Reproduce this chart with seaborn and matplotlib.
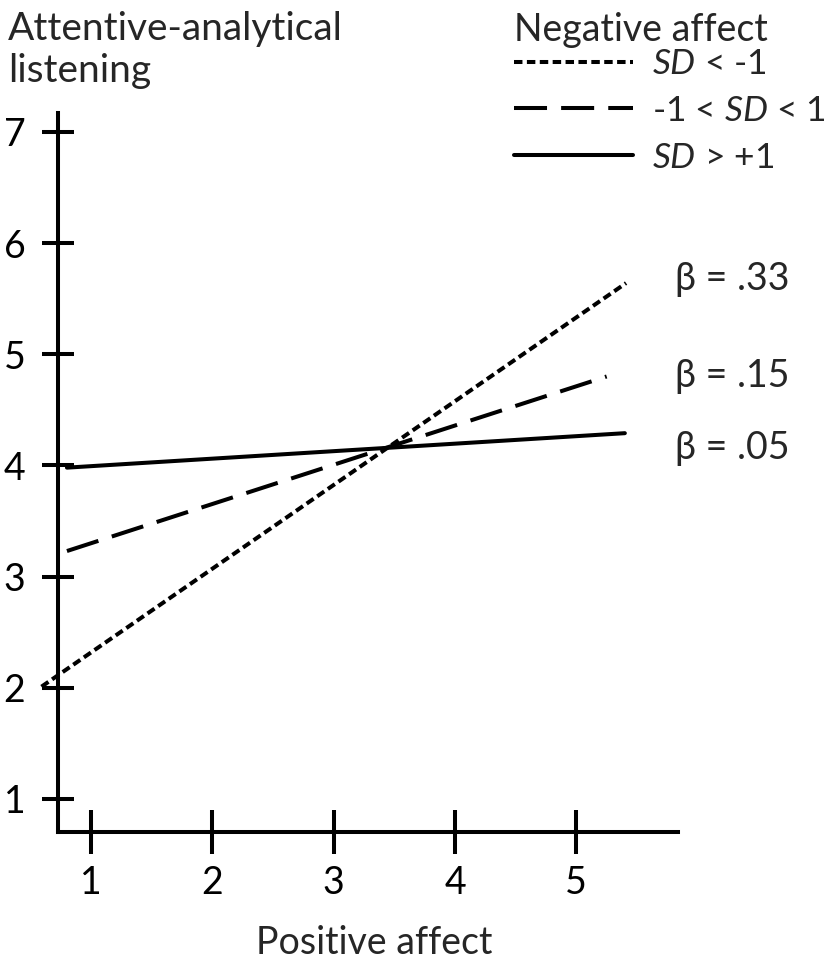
import matplotlib
matplotlib.use("Agg")
import matplotlib.pyplot as plt
import seaborn as sns
import pandas as pd

# ─── Data ─────────────────────────────────────────────────────────────────────
SERIES      = ["SD < -1", "-1 < SD < 1", "SD > +1"]
LEGEND_TXT  = [r"$\mathit{SD}$ < -1", r"-1 < $\mathit{SD}$ < 1", r"$\mathit{SD}$ > +1"]
X_POINTS    = {"SD < -1": [0.59, 5.41], "-1 < SD < 1": [0.80, 5.25], "SD > +1": [0.80, 5.40]}
Y_POINTS    = {"SD < -1": [2.01, 5.64], "-1 < SD < 1": [3.23, 4.80], "SD > +1": [3.98, 4.29]}
BETAS       = [".33", ".15", ".05"]
BETA_Y      = [5.68, 4.80, 4.16]
X_TICKS     = [1, 2, 3, 4, 5]
Y_TICKS     = [1, 2, 3, 4, 5, 6, 7]

LINESTYLES = {
    "SD < -1":     (0, (2.1, 1.1)),
    "-1 < SD < 1": (0, (8.2, 3.5)),
    "SD > +1":     "-",
}

sns.set_style("white")
plt.rcParams["font.family"] = ["Lato", "DejaVu Sans"]
plt.rcParams["mathtext.fontset"] = "custom"
plt.rcParams["mathtext.rm"] = "Lato"
plt.rcParams["mathtext.it"] = "Lato:italic"

FS = 27
LW = 2.9

fig = plt.figure(figsize=(8.27, 9.68), dpi=100)
ax = fig.add_axes([0.0701, 0.1405, 0.750, 0.7428])

df = pd.DataFrame([
    {"series": s, "x": x, "y": y}
    for s in SERIES for x, y in zip(X_POINTS[s], Y_POINTS[s])
])

for s, lab in zip(SERIES, LEGEND_TXT):
    sub = df[df["series"] == s]
    sns.lineplot(data=sub, x="x", y="y", ax=ax, color="black", lw=LW,
                 linestyle=LINESTYLES[s], clip_on=False, label=lab,
                 estimator=None, sort=False)

ax.set_xlim(0.726, 5.84)
ax.set_ylim(0.703, 7.17)
ax.set_xticks(X_TICKS)
ax.set_yticks(Y_TICKS)
ax.set_xlabel("")
ax.set_ylabel("")

for side in ["top", "right"]:
    ax.spines[side].set_visible(False)
for side in ["left", "bottom"]:
    ax.spines[side].set_linewidth(LW)
    ax.spines[side].set_color("black")

ax.tick_params(axis="x", bottom=True, direction="inout", length=31, width=LW,
               pad=8, labelsize=FS, colors="black")
ax.tick_params(axis="y", left=True, direction="inout", length=23, width=LW,
               pad=12, labelsize=FS, colors="black")

# beta annotations
for b, y in zip(BETAS, BETA_Y):
    ax.text(5.81, y, f"β = {b}", fontsize=FS, ha="left", va="center",
            clip_on=False)

fig.text(8 / 827, 1 - 50 / 968, "Attentive-analytical\nlistening",
         fontsize=28, ha="left", va="center", linespacing=1.2)
fig.text(374 / 827, 1 - 943 / 968, "Positive affect", fontsize=FS,
         ha="center", va="center")

leg = ax.legend(title="Negative affect", frameon=False, fontsize=25.5,
                title_fontsize=FS, loc="upper left",
                bbox_to_anchor=(514 / 827, 1 - 12 / 968),
                bbox_transform=fig.transFigure,
                handlelength=3.35, handletextpad=0.55, labelspacing=0.42,
                borderpad=0, borderaxespad=0)
leg._legend_box.align = "left"
leg._legend_box.sep = 0
for line in leg.get_lines():
    line.set_linewidth(LW)

fig.savefig("out.png", dpi=100)
